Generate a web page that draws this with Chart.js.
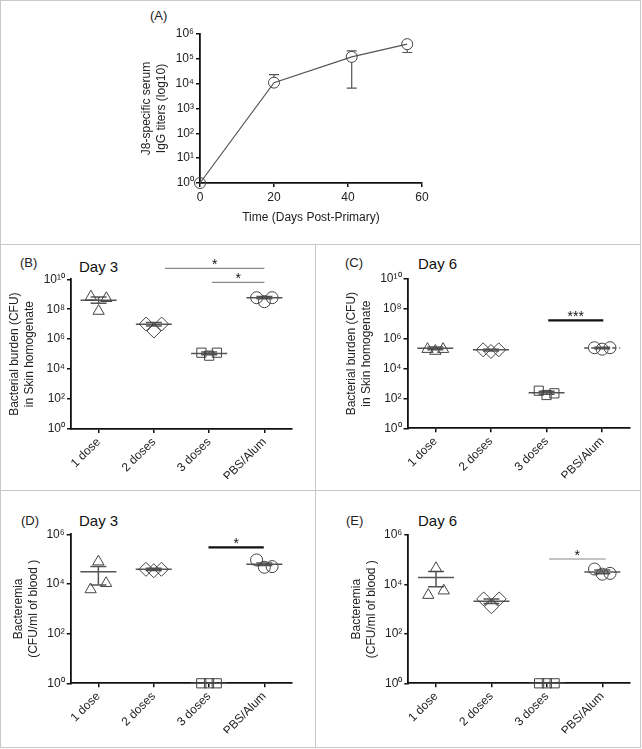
<!DOCTYPE html>
<html>
<head>
<meta charset="utf-8">
<script src="https://cdn.jsdelivr.net/npm/chart.js@4"></script>
<style>
body { margin: 0; background: #fff; font-family: "Liberation Sans", Arial, sans-serif; }
#fig { position: relative; width: 642px; height: 749px; }
#fig canvas { position: absolute; }
.line { position: absolute; background: #c8c8c8; }
.lbl { position: absolute; height: 16px; line-height: 16px; font-size: 13px; color: #222; white-space: nowrap; }
.day { font-size: 15px; color: #111; }
</style>
</head>
<body>
<div id="fig">
  <div class="line" style="left:0;top:0;width:641px;height:1px"></div>
  <div class="line" style="left:0;top:747px;width:641px;height:1px"></div>
  <div class="line" style="left:0;top:0;width:1px;height:748px"></div>
  <div class="line" style="left:640px;top:0;width:1px;height:748px"></div>
  <div class="line" style="left:0;top:244px;width:641px;height:1px"></div>
  <div class="line" style="left:0;top:490px;width:641px;height:1px"></div>
  <div class="line" style="left:315px;top:244px;width:1px;height:504px"></div>

  <div class="lbl" style="left:150px;top:8px">(A)</div>
  <div class="lbl" style="left:20px;top:255px">(B)</div>
  <div class="lbl day" style="left:79px;top:259px">Day 3</div>
  <div class="lbl" style="left:345px;top:255px">(C)</div>
  <div class="lbl day" style="left:418px;top:256px">Day 6</div>
  <div class="lbl" style="left:21px;top:513px">(D)</div>
  <div class="lbl day" style="left:79px;top:513px">Day 3</div>
  <div class="lbl" style="left:346px;top:513px">(E)</div>
  <div class="lbl day" style="left:418px;top:513px">Day 6</div>
</div>
<script>
Chart.defaults.font.family = '"Liberation Sans", Arial, sans-serif';
Chart.defaults.color = '#222';

const groups = ['1 dose', '2 doses', '3 doses', 'PBS/Alum'];
const jitter = [-0.14, 0, 0.14];
const shapes = ['triangle', 'rectRot', 'rect', 'circle'];
const sizes = [6.5, 7, 6.5, 6];

// (A) J8-specific IgG titres
const daysA = [0, 20, 41, 56];
const titerA = [1, 1.1e4, 1.2e5, 3.9e5];
const titerHiA = [1, 2.3e4, 2.1e5, 3.9e5];
const titerLoA = [1, 1.1e4, 6.6e3, 1.8e5];
const yTicksA = [1, 10, 100, 1e3, 1e4, 1e5, 1e6];

// (B) skin burden, day 3
const skinD3 = [[6.9e8, 7.6e7, 5.4e8], [1.03e7, 3.5e6, 1.03e7], [1.25e5, 7.9e4, 1.25e5], [5.9e8, 3.2e8, 5.9e8]];
const skinD3Mean = [4e8, 1e7, 1.1e5, 5.9e8];
const skinD3Hi = [6.5e8, 1.3e7, 1.4e5, 7e8];
const skinD3Lo = [2.5e8, 7.5e6, 9e4, 5e8];

// (C) skin burden, day 6
const skinD6 = [[2e5, 1.5e5, 2e5], [1.8e5, 1.4e5, 1.8e5], [330, 170, 220], [2.5e5, 2e5, 2.5e5]];
const skinD6Mean = [2.3e5, 1.8e5, 245, 2.4e5];
const skinD6Hi = [2.8e5, 2e5, 300, 2.7e5];
const skinD6Lo = [1.8e5, 1.5e5, 190, 2.1e5];
const yTicksSkin = [1, 1e2, 1e4, 1e6, 1e8, 1e10];

// (D) bacteremia, day 3
const bloodD3 = [[6e3, 7.9e4, 1.07e4], [3.9e4, 3.4e4, 3.9e4], [1, 1, 1], [9.3e4, 4.7e4, 5e4]];
const bloodD3Mean = [3.1e4, 3.9e4, 1, 6.2e4];
const bloodD3Hi = [5e4, 4.3e4, 1, 7e4];
const bloodD3Lo = [9e3, 3.5e4, 1, 5.5e4];

// (E) bacteremia, day 6
const bloodD6 = [[3.7e3, 4.5e4, 5.6e3], [2.6e3, 1.25e3, 2.6e3], [1, 1, 1], [4.2e4, 2.6e4, 2.8e4]];
const bloodD6Mean = [1.9e4, 2.1e3, 1, 3.2e4];
const bloodD6Hi = [3.3e4, 2.6e3, 1, 3.8e4];
const bloodD6Lo = [8e3, 1.7e3, 1, 2.7e4];
const yTicksBlood = [1, 1e2, 1e4, 1e6];

// significance bars (x in group units, y in data units)
const sigB = [{ x0: 2.2, x1: 4.0, y: 5.4e10, text: '*' }, { x0: 3.05, x1: 4.0, y: 6.3e9, text: '*' }];
const sigC = [{ x0: 3.03, x1: 4.02, y: 1.7e7, text: '***' }];
const sigD = [{ x0: 2.99, x1: 3.99, y: 3e5, text: '*' }];
const sigE = [{ x0: 3.04, x1: 4.06, y: 1.07e5, text: '*' }];

const sup = n => String(n).split('').map(d => '⁰¹²³⁴⁵⁶⁷⁸⁹'[+d]).join('');
const fig = document.getElementById('fig');
const tickFont = { size: 12 };
const titleFont = { size: 12, lineHeight: 1.25 };

function addCanvas(b) {
    const c = document.createElement('canvas');
    c.width = b.w; c.height = b.h;
    c.style.left = b.x + 'px'; c.style.top = b.y + 'px';
    fig.appendChild(c);
    return c;
}

// work out padding so the plot area lands where it sits in the figure
function layoutFor(b, area, titleX, xH) {
    const padL = titleX - 7.5 - b.x;
    return {
        padding: { left: padL, top: area.t - b.y, right: b.x + b.w - area.r, bottom: b.y + b.h - area.b - xH },
        yW: area.l - b.x - padL,
        xH: xH
    };
}

function yAxis(ticks, max, title, yW) {
    return {
        type: 'logarithmic', min: 1, max: max,
        afterBuildTicks: s => { s.ticks = ticks.map(v => ({ value: v })); },
        afterFit: s => { s.width = yW; },
        ticks: { font: tickFont, color: '#222', padding: 2, callback: v => '10' + sup(Math.round(Math.log10(v))) },
        grid: { drawOnChartArea: false, tickLength: 4, color: '#111', lineWidth: 1.5 },
        border: { color: '#111', width: 1.8 },
        title: { display: true, text: title, font: titleFont, color: '#222', padding: 0 }
    };
}

function groupPanel(box, area, titleX, vals, mean, hi, lo, yTicks, yMax, yTitle, sig, sigStyle, dashLast) {
    const L = layoutFor(box, area, titleX, 50);
    new Chart(addCanvas(box), {
        type: 'scatter',
        data: {
            datasets: groups.map((g, gi) => ({
                label: g,
                data: vals[gi].map((v, k) => ({ x: gi + 1 + jitter[k], y: v })),
                pointStyle: shapes[gi],
                pointRadius: sizes[gi],
                borderColor: '#444',
                backgroundColor: 'rgba(0,0,0,0)',
                borderWidth: 1,
                clip: false
            }))
        },
        options: {
            responsive: false, animation: false, events: [],
            layout: { padding: L.padding },
            plugins: { legend: { display: false }, tooltip: { enabled: false } },
            scales: {
                x: {
                    type: 'linear', min: 0.5, max: 4.5,
                    afterBuildTicks: s => { s.ticks = groups.map((g, i) => ({ value: i + 1 })); },
                    afterFit: s => { s.height = L.xH; },
                    ticks: { font: tickFont, color: '#222', padding: 2, minRotation: 45, maxRotation: 45, autoSkip: false,
                        callback: v => groups[Math.round(v) - 1] },
                    grid: { drawOnChartArea: false, tickLength: 4, color: '#111', lineWidth: 1.5 },
                    border: { color: '#111', width: 1.8 }
                },
                y: yAxis(yTicks, yMax, yTitle, L.yW)
            }
        },
        plugins: [{
            id: 'meanBars',
            beforeDatasetsDraw(chart) {
                const ctx = chart.ctx, xs = chart.scales.x, ys = chart.scales.y;
                ctx.save();
                ctx.strokeStyle = '#555';
                ctx.lineWidth = 1.5;
                mean.forEach((m, gi) => {
                    const cx = xs.getPixelForValue(gi + 1);
                    const ym = ys.getPixelForValue(m);
                    const yh = ys.getPixelForValue(hi[gi]);
                    const yl = ys.getPixelForValue(lo[gi]);
                    ctx.setLineDash(dashLast && gi === 3 ? [4, 3] : []);
                    ctx.beginPath();
                    ctx.moveTo(cx - 18, ym); ctx.lineTo(cx + 18, ym);
                    ctx.stroke();
                    ctx.setLineDash([]);
                    ctx.beginPath();
                    ctx.moveTo(cx, yh); ctx.lineTo(cx, yl);
                    ctx.moveTo(cx - 8, yh); ctx.lineTo(cx + 8, yh);
                    ctx.moveTo(cx - 8, yl); ctx.lineTo(cx + 8, yl);
                    ctx.stroke();
                });
                ctx.restore();
            },
            afterDraw(chart) {
                const ctx = chart.ctx, xs = chart.scales.x, ys = chart.scales.y;
                ctx.save();
                sig.forEach(s => {
                    const x0 = xs.getPixelForValue(s.x0), x1 = xs.getPixelForValue(s.x1);
                    const y = ys.getPixelForValue(s.y);
                    ctx.strokeStyle = sigStyle.color;
                    ctx.lineWidth = sigStyle.width;
                    ctx.beginPath(); ctx.moveTo(x0, y); ctx.lineTo(x1, y); ctx.stroke();
                    ctx.fillStyle = '#111';
                    ctx.font = '14px "Liberation Sans", Arial, sans-serif';
                    ctx.textAlign = 'center';
                    ctx.textBaseline = 'middle';
                    ctx.fillText(s.text, (x0 + x1) / 2, y - 3);
                });
                ctx.restore();
            }
        }]
    });
}

// (A)
(function () {
    const box = { x: 1, y: 1, w: 639, h: 243 };
    const area = { l: 200, r: 422, t: 34, b: 183 };
    const L = layoutFor(box, area, 147, 218 + 7.5 - area.b);
    new Chart(addCanvas(box), {
        type: 'scatter',
        data: {
            datasets: [{
                data: daysA.map((d, i) => ({ x: d, y: titerA[i] })),
                showLine: true,
                borderColor: '#555',
                borderWidth: 1.2,
                pointStyle: 'circle',
                pointRadius: 5.5,
                pointBorderColor: '#444',
                pointBackgroundColor: 'rgba(0,0,0,0)',
                pointBorderWidth: 1,
                clip: false
            }]
        },
        options: {
            responsive: false, animation: false, events: [],
            layout: { padding: L.padding },
            plugins: { legend: { display: false }, tooltip: { enabled: false } },
            scales: {
                x: {
                    type: 'linear', min: 0, max: 60,
                    afterFit: s => { s.height = L.xH; },
                    ticks: { stepSize: 20, font: tickFont, color: '#222', padding: 3 },
                    grid: { drawOnChartArea: false, tickLength: 4, color: '#111', lineWidth: 1.5 },
                    border: { color: '#111', width: 1.8 },
                    title: { display: true, text: 'Time (Days Post-Primary)', font: titleFont, color: '#222', padding: 0 }
                },
                y: yAxis(yTicksA, 1e6, ['J8-specific serum', 'IgG titers (log10)'], L.yW)
            }
        },
        plugins: [{
            id: 'errBars',
            afterDatasetsDraw(chart) {
                const ctx = chart.ctx, xs = chart.scales.x, ys = chart.scales.y;
                ctx.save();
                ctx.strokeStyle = '#555';
                ctx.lineWidth = 1.2;
                daysA.forEach((d, i) => {
                    const cx = xs.getPixelForValue(d);
                    const yh = ys.getPixelForValue(titerHiA[i]);
                    const yl = ys.getPixelForValue(titerLoA[i]);
                    const ym = ys.getPixelForValue(titerA[i]);
                    ctx.beginPath();
                    if (yh < ym - 5.5) { ctx.moveTo(cx, ym - 5.5); ctx.lineTo(cx, yh); ctx.moveTo(cx - 5, yh); ctx.lineTo(cx + 5, yh); }
                    if (yl > ym + 5.5) { ctx.moveTo(cx, ym + 5.5); ctx.lineTo(cx, yl); ctx.moveTo(cx - 5, yl); ctx.lineTo(cx + 5, yl); }
                    ctx.stroke();
                });
                ctx.restore();
            }
        }]
    });
})();

const skinTitle = ['Bacterial burden (CFU)', 'in Skin homogenate'];
const bloodTitle = ['Bacteremia', '(CFU/ml of blood )'];
const thinGrey = { color: '#888', width: 1.2 };
const thickBlack = { color: '#111', width: 2.2 };

groupPanel({ x: 1, y: 245, w: 314, h: 245 }, { l: 71, r: 292, t: 279.3, b: 429 }, 15,
    skinD3, skinD3Mean, skinD3Hi, skinD3Lo, yTicksSkin, 1e10, skinTitle, sigB, thinGrey, false);
groupPanel({ x: 316, y: 245, w: 324, h: 245 }, { l: 407.5, r: 630, t: 279, b: 428.3 }, 352,
    skinD6, skinD6Mean, skinD6Hi, skinD6Lo, yTicksSkin, 1e10, skinTitle, sigC, thickBlack, true);
groupPanel({ x: 1, y: 491, w: 314, h: 256 }, { l: 70.7, r: 292, t: 534.3, b: 683.3 }, 18.5,
    bloodD3, bloodD3Mean, bloodD3Hi, bloodD3Lo, yTicksBlood, 1e6, bloodTitle, sigD, thickBlack, false);
groupPanel({ x: 316, y: 491, w: 324, h: 256 }, { l: 408.3, r: 630, t: 535, b: 683.3 }, 357,
    bloodD6, bloodD6Mean, bloodD6Hi, bloodD6Lo, yTicksBlood, 1e6, bloodTitle, sigE, thinGrey, false);
</script>
</body>
</html>
